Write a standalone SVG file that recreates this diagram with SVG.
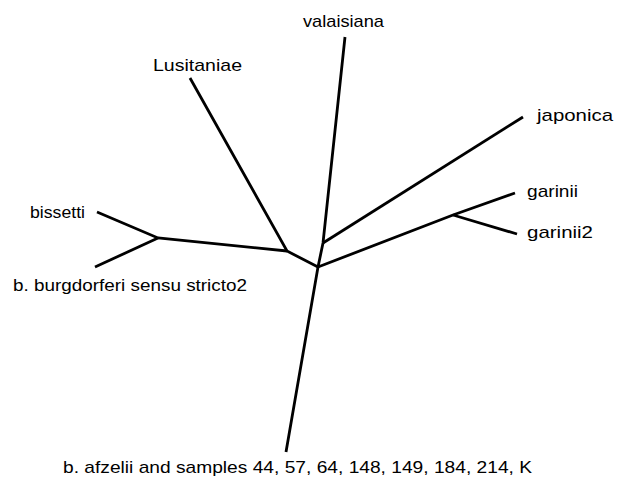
<svg xmlns="http://www.w3.org/2000/svg" width="621" height="486" viewBox="0 0 621 486">
<style>
.e{stroke:#000;stroke-width:2.8;fill:none;stroke-linecap:butt;stroke-linejoin:miter}
.t{font-family:"Liberation Sans",Arial,sans-serif;font-size:17px;fill:#000}
</style>
<rect width="621" height="486" fill="#fff"/>
<g id="connectors">
<polyline class="e" points="286,452 318,267 323,243 345,37"/>
<line class="e" x1="323" y1="243" x2="523" y2="117"/>
<polyline class="e" points="318,267 453,215 515,193"/>
<line class="e" x1="453" y1="215" x2="517" y2="234"/>
<polyline class="e" points="318,267 287,251 190,78"/>
<polyline class="e" points="287,251 158,238 97,212"/>
<line class="e" x1="158" y1="238" x2="95" y2="267"/>
</g>
<g id="valaisiana"><text class="t" x="303" y="27" textLength="81" lengthAdjust="spacingAndGlyphs">valaisiana</text></g>
<g id="lusitaniae"><text class="t" x="153" y="71" textLength="89" lengthAdjust="spacingAndGlyphs">Lusitaniae</text></g>
<g id="japonica"><text class="t" x="537" y="121" textLength="76" lengthAdjust="spacingAndGlyphs">japonica</text></g>
<g id="garinii"><text class="t" x="527" y="197" textLength="51" lengthAdjust="spacingAndGlyphs">garinii</text></g>
<g id="garinii2"><text class="t" x="527" y="238" textLength="66" lengthAdjust="spacingAndGlyphs">garinii2</text></g>
<g id="bissetti"><text class="t" x="30" y="218" textLength="55" lengthAdjust="spacingAndGlyphs">bissetti</text></g>
<g id="burgdorferi"><text class="t" x="13" y="291" textLength="234" lengthAdjust="spacingAndGlyphs">b. burgdorferi sensu stricto2</text></g>
<g id="afzelii"><text class="t" x="63" y="473" textLength="469" lengthAdjust="spacingAndGlyphs">b. afzelii and samples 44, 57, 64, 148, 149, 184, 214, K</text></g>
</svg>
